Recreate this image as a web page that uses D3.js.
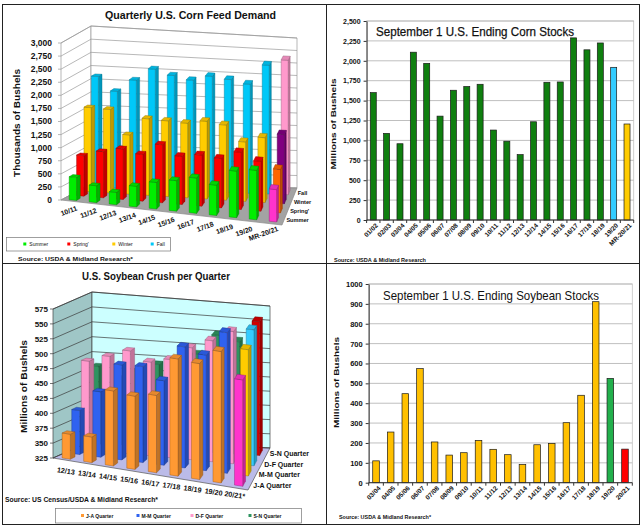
<!DOCTYPE html>
<html>
<head>
<meta charset="utf-8">
<script src="https://cdn.jsdelivr.net/npm/d3@7"></script>
<style>
  body { margin: 0; background: #fff; }
  svg { display: block; font-family: "Liberation Sans", Arial, sans-serif; }
</style>
</head>
<body>
<svg id="chart" width="643" height="532"></svg>
<script>
// ---- Quarterly U.S. Corn Feed Demand ----
var feedYears = ["10/11", "11/12", "12/13", "13/14", "14/15", "15/16", "16/17", "17/18", "18/19", "19/20", "MR-20/21"];
var feedQuarters = ["Summer", "Spring'", "Winter", "Fall"];   // front -> back
var feedSummer = [440, 322, 236, 396, 511, 587, 680, 585, 899, 957, 627];
var feedSpring = [773, 883, 969, 901, 1120, 931, 990, 956, 1113, 973, 847];
var feedWinter = [1606, 1599, 1138, 1475, 1463, 1445, 1511, 1466, 1163, 1273, 1362];
var feedFall = [2116, 1854, 2090, 2323, 2224, 2157, 2255, 2214, 2145, 2544, 2668];
var feedTicks = [0, 250, 500, 750, 1000, 1250, 1500, 1750, 2000, 2250, 2500, 2750, 3000];

// ---- September 1 U.S. Ending Corn Stocks ----
var cornYears = ["01/02", "02/03", "03/04", "04/05", "05/06", "06/07", "07/08", "08/09", "09/10", "10/11",
                 "11/12", "12/13", "13/14", "14/15", "15/16", "16/17", "17/18", "18/19", "19/20", "MR-20/21"];
var cornStocks = [1600, 1088, 958, 2108, 1968, 1305, 1630, 1677, 1705, 1130, 990, 821, 1234, 1730, 1734, 2288, 2138, 2224, 1918, 1206];
var cornTicks = [0, 250, 500, 750, 1000, 1250, 1500, 1750, 2000, 2250, 2500];

// ---- U.S. Soybean Crush per Quarter ----
var crushYears = ["12/13", "13/14", "14/15", "15/16", "16/17", "17/18", "18/19", "19/20", "20/21*"];
var crushQuarters = ["J-A Quarter", "M-M Quarter", "D-F Quarter", "S-N Quarter"];   // front -> back
var crushJA = [367, 368, 451, 448, 455, 522, 520, 546, 504];
var crushMM = [399, 435, 485, 487, 468, 530, 521, 564, 540];
var crushDF = [474, 486, 499, 484, 492, 516, 532, 552, 559];
var crushSN = [458, 440, 455, 469, 465, 492, 528, 520, 558];
var crushTicks = [325, 350, 375, 400, 425, 450, 475, 500, 525, 550, 575];

// ---- September 1 U.S. Ending Soybean Stocks ----
var soyYears = ["03/04", "04/05", "05/06", "06/07", "07/08", "08/09", "09/10", "10/11", "11/12",
                "12/13", "13/14", "14/15", "15/16", "16/17", "17/18", "18/19", "19/20", "20/21"];
var soyStocks = [110, 255, 448, 574, 205, 139, 151, 213, 168, 141, 92, 191, 198, 302, 440, 911, 525, 169];
var soyTicks = [0, 100, 200, 300, 400, 500, 600, 700, 800, 900, 1000];

var svg = d3.select("#chart");
var comma = d3.format(",");

function addText(g, x, y, str, size, opts) {
  opts = opts || {};
  var t = g.append("text")
    .attr("x", x).attr("y", y)
    .attr("font-size", size)
    .attr("font-weight", opts.bold ? "bold" : "normal")
    .attr("fill", opts.fill || "#111")
    .attr("text-anchor", opts.anchor || "start")
    .text(str);
  if (opts.len) t.attr("textLength", opts.len).attr("lengthAdjust", "spacingAndGlyphs");
  if (opts.rotate != null) t.attr("transform", "rotate(" + opts.rotate + "," + x + "," + y + ")");
  if (opts.dy) t.attr("dy", opts.dy);
  return t;
}

// floor corners + heights, blended so the view keeps its perspective look
function box3d(c) {
  var lerp = function(a, b, t) { return a + (b - a) * t; };
  return function(u, v, t) {
    var bx = lerp(lerp(c.fl[0], c.fr[0], u), lerp(c.bl[0], c.br[0], u), v);
    var by = lerp(lerp(c.fl[1], c.fr[1], u), lerp(c.bl[1], c.br[1], u), v);
    var hh = lerp(lerp(c.h[0], c.h[1], u), lerp(c.h[2], c.h[3], u), v);
    return [bx, by - t * hh];
  };
}

function pts(a) { return a.map(function(p) { return p[0].toFixed(2) + "," + p[1].toFixed(2); }).join(" "); }

function draw3D(o) {
  var g = svg.append("g");
  var P = o.P;
  var U = d3.scaleBand().domain(o.cats).range([0, 1]).paddingInner(o.gapU).paddingOuter(o.gapU / 2);
  var V = d3.scaleBand().domain(o.rows).range([0, 1]).paddingInner(0.5).paddingOuter(0.25);
  var T = d3.scaleLinear().domain(o.domain).range([0, 1]);

  g.append("polygon").attr("points", pts([P(0,0,0), P(0,0,1), P(0,1,1), P(0,1,0)]))
    .attr("fill", o.leftWall).attr("stroke", o.edge).attr("stroke-width", 0.7);
  g.append("polygon").attr("points", pts([P(0,1,0), P(0,1,1), P(1,1,1), P(1,1,0)]))
    .attr("fill", o.backWall).attr("stroke", o.edge).attr("stroke-width", 0.7);
  g.append("polygon").attr("points", pts([P(0,0,0), P(1,0,0), P(1,1,0), P(0,1,0)]))
    .attr("fill", o.floor).attr("stroke", o.floorEdge).attr("stroke-width", 0.7);

  g.selectAll("polyline.grid").data(o.ticks).join("polyline")
    .attr("points", function(d) { var t = T(d); return pts([P(0,0,t), P(0,1,t), P(1,1,t)]); })
    .attr("fill", "none").attr("stroke", o.grid).attr("stroke-width", 0.7);
  g.selectAll("line.tk").data(o.ticks).join("line")
    .attr("x1", function(d) { return P(0,0,T(d))[0] - 3; })
    .attr("x2", function(d) { return P(0,0,T(d))[0]; })
    .attr("y1", function(d) { return P(0,0,T(d))[1]; })
    .attr("y2", function(d) { return P(0,0,T(d))[1]; })
    .attr("stroke", o.grid).attr("stroke-width", 0.7);
  o.ticks.forEach(function(d) {
    var p = P(0, 0, T(d));
    addText(g, p[0] - o.labelGap, p[1], o.fmt(d), o.tickFont, { bold: true, anchor: "end", dy: "0.35em" });
  });

  // bars, back row first
  for (var s = o.series.length - 1; s >= 0; s--) {
    o.series[s].forEach(function(val, i) {
      var cat = o.cats[i];
      var u0 = U(cat), u1 = u0 + U.bandwidth();
      var v0 = V(o.rows[s]), v1 = v0 + V.bandwidth();
      var t = T(val);
      var base = i === o.cats.length - 1 ? o.lastColors[s] : o.colors[s];
      var c = d3.color(base);
      var line = c.darker(1.6).formatHex();
      g.append("polygon").attr("points", pts([P(u1,v0,0), P(u1,v1,0), P(u1,v1,t), P(u1,v0,t)]))
        .attr("fill", c.darker(0.8).formatHex()).attr("stroke", line).attr("stroke-width", 0.4);
      g.append("polygon").attr("points", pts([P(u0,v0,0), P(u1,v0,0), P(u1,v0,t), P(u0,v0,t)]))
        .attr("fill", base).attr("stroke", line).attr("stroke-width", 0.4);
      g.append("polygon").attr("points", pts([P(u0,v0,t), P(u1,v0,t), P(u1,v1,t), P(u0,v1,t)]))
        .attr("fill", c.darker(0.3).formatHex()).attr("stroke", line).attr("stroke-width", 0.4);
    });
  }

  // category labels along the front edge
  o.cats.forEach(function(cat) {
    var u = U(cat) + U.bandwidth() / 2;
    var p = P(u, 0, 0);
    var lp = o.catPos(u, p);
    addText(g, lp[0], lp[1], cat, o.catFont, { bold: true, anchor: "middle", rotate: o.catRotate });
  });
  // depth labels along the right edge
  o.rows.forEach(function(r) {
    var v = V(r) + V.bandwidth() / 2;
    var p = P(1, v, 0);
    addText(g, p[0] + 2.5, p[1] + o.rowDy, r, o.rowFont, { bold: true });
  });
  return g;
}

function drawBars(o) {
  var g = svg.append("g");
  var x = d3.scaleBand().domain(o.cats).range(o.xr).paddingInner(0.55).paddingOuter(0.275);
  var y = d3.scaleLinear().domain(o.yd).range(o.yr);
  g.append("rect").attr("x", o.xr[0]).attr("y", o.yr[1])
    .attr("width", o.xr[1] - o.xr[0]).attr("height", o.yr[0] - o.yr[1])
    .attr("fill", "none").attr("stroke", "#c4c4c4").attr("stroke-width", 0.8);
  g.selectAll("line.grid").data(o.ticks).join("line")
    .attr("x1", o.xr[0]).attr("x2", o.xr[1])
    .attr("y1", function(d) { return y(d); }).attr("y2", function(d) { return y(d); })
    .attr("stroke", "#b8b8b8").attr("stroke-width", 0.9);

  var ya = g.append("g").attr("transform", "translate(" + o.xr[0] + ",0)")
    .call(d3.axisLeft(y).tickValues(o.ticks).tickSize(3).tickSizeOuter(0).tickPadding(3).tickFormat(o.fmt));
  ya.select(".domain").attr("stroke", "#333");
  ya.selectAll(".tick line").attr("stroke", "#333");
  ya.selectAll("text").attr("font-size", o.tickFont).attr("font-weight", "bold").attr("fill", "#111")
    .attr("font-family", "Liberation Sans, Arial, sans-serif");

  g.selectAll("rect.bar").data(o.values).join("rect")
    .attr("x", function(d, i) { return x(o.cats[i]); })
    .attr("y", function(d) { return y(d); })
    .attr("width", x.bandwidth())
    .attr("height", function(d) { return y(0) - y(d); })
    .attr("fill", function(d, i) { return o.color(i); })
    .attr("stroke", "#1a1a1a").attr("stroke-width", 0.7);

  var y0 = y(0);
  g.append("line").attr("x1", o.xr[0]).attr("x2", o.xr[1]).attr("y1", y0).attr("y2", y0)
    .attr("stroke", "#333");
  var gap = (x.step() - x.bandwidth()) / 2;
  var bounds = o.cats.map(function(c) { return x(c) - gap; }).concat([o.xr[1]]);
  g.selectAll("line.xt").data(bounds).join("line")
    .attr("x1", function(d) { return d; }).attr("x2", function(d) { return d; })
    .attr("y1", y0).attr("y2", y0 + 3).attr("stroke", "#333");
  o.cats.forEach(function(c) {
    var cx = x(c) + x.bandwidth() / 2 + 5;
    addText(g, cx, y0 + 6, c, o.catFont, { bold: true, anchor: "end", rotate: -45 });
  });
  return g;
}

// ---------- panel 1: corn feed (3D) ----------
var feedP = box3d({ fl: [61, 200], fr: [282, 225], bl: [91, 184], br: [297, 188], h: [157, 155, 158, 150] });
draw3D({
  P: feedP, cats: feedYears, rows: feedQuarters, gapU: 0.63,
  series: [feedSummer, feedSpring, feedWinter, feedFall],
  colors: ["#00ee00", "#ff0000", "#ffcc00", "#00c8f8"],
  lastColors: ["#ff33cc", "#ff6600", "#800080", "#ff99cc"],
  domain: [0, 3000], ticks: feedTicks, fmt: comma, tickFont: 8.5, labelGap: 9,
  leftWall: "#ffffff", backWall: "#ffffff", floor: "#a3a3a3", floorEdge: "#8a8a8a",
  edge: "#9a9a9a", grid: "#9a9a9a",
  catFont: 7, catRotate: -20, catPos: function(u, p) { return [p[0] - 1 - 7 * u, p[1] + 12]; },
  rowFont: 5.6, rowDy: 2
});
var g1 = svg.append("g");
addText(g1, 190.5, 18.5, "Quarterly U.S. Corn Feed Demand", 11.5, { bold: true, anchor: "middle", len: 171 });
addText(g1, 17, 123, "Thousands of Bushels", 9, { bold: true, anchor: "middle", rotate: -90, dy: "0.35em", len: 108 });
g1.append("rect").attr("x", 6.5).attr("y", 237.5).attr("width", 164).attr("height", 13.5)
  .attr("fill", "#fff").attr("stroke", "#777").attr("stroke-width", 0.7);
var feedLegX = [23.3, 67.3, 112.3, 150.7];
var feedLegCol = ["#00ee00", "#ff0000", "#ffcc00", "#00c8f8"];
var feedLegTxt = ["Summer", "Spring'", "Winter", "Fall"];
feedLegTxt.forEach(function(t, i) {
  g1.append("rect").attr("x", feedLegX[i]).attr("y", 242.5).attr("width", 3).attr("height", 3).attr("fill", feedLegCol[i]);
  addText(g1, feedLegX[i] + 6, 246, t, 5);
});
addText(g1, 18, 260.5, "Source: USDA & Midland Research*", 6, { bold: true, len: 115 });

// ---------- panel 2: corn stocks ----------
drawBars({
  cats: cornYears, values: cornStocks, ticks: cornTicks, fmt: comma,
  xr: [366.6, 633.7], yd: [0, 2500], yr: [220, 21], tickFont: 7, catFont: 6.5,
  color: function(i) { return i === 18 ? "#33ccff" : (i === 19 ? "#ffcc00" : "#0f7f0f"); }
});
var g2 = svg.append("g");
addText(g2, 376, 36, "September 1 U.S. Ending Corn Stocks", 12.5, { len: 198 }).attr("stroke", "#111").attr("stroke-width", 0.25);
addText(g2, 333, 124, "Millions of Bushels", 7.8, { bold: true, anchor: "middle", rotate: -90, dy: "0.35em", len: 91 });
addText(g2, 334, 261.5, "Source: USDA & Midland Research", 5.6, { bold: true, len: 92 });

// ---------- panel 3: soybean crush (3D) ----------
var crushP = box3d({ fl: [53, 458], fr: [248, 490], bl: [92, 441], br: [270, 448], h: [149, 149, 149, 142] });
draw3D({
  P: crushP, cats: crushYears, rows: crushQuarters, gapU: 0.62,
  series: [crushJA, crushMM, crushDF, crushSN],
  colors: ["#ff9933", "#2f62f0", "#ff99cc", "#2e9460"],
  lastColors: ["#ff33cc", "#ffcc00", "#33ccff", "#d40000"],
  domain: [325, 575], ticks: crushTicks, fmt: d3.format("d"), tickFont: 8, labelGap: 5,
  leftWall: "#9fc6c6", backWall: "#ccffff", floor: "#bbbbe8", floorEdge: "#555",
  edge: "#444", grid: "#3a3a3a",
  catFont: 7.2, catRotate: 8, catPos: function(u, p) { return [p[0] + 2 - 5 * u, p[1] + 14 - 5 * u]; },
  rowFont: 7, rowDy: 3
});
var g3 = svg.append("g");
addText(g3, 156, 280, "U.S. Soybean Crush per Quarter", 10.5, { bold: true, anchor: "middle", len: 148 });
addText(g3, 24, 386.5, "Millions of Bushels", 9, { bold: true, anchor: "middle", rotate: -90, dy: "0.35em", len: 93 });
addText(g3, 5, 502, "Source: US Census/USDA & Midland Research*", 7, { bold: true, len: 153 });
g3.append("rect").attr("x", 55.5).attr("y", 508.5).attr("width", 246).attr("height", 14.5)
  .attr("fill", "#fff").attr("stroke", "#777").attr("stroke-width", 0.7);
var crushLegX = [81, 136.5, 190.5, 248.5];
var crushLegCol = ["#ff9933", "#2f62f0", "#ff99cc", "#2e9460"];
crushQuarters.forEach(function(t, i) {
  g3.append("rect").attr("x", crushLegX[i]).attr("y", 514).attr("width", 3).attr("height", 3).attr("fill", crushLegCol[i]);
  addText(g3, crushLegX[i] + 5, 517.7, t, 5, { bold: true });
});

// ---------- panel 4: soybean stocks ----------
drawBars({
  cats: soyYears, values: soyStocks, ticks: soyTicks, fmt: d3.format("d"),
  xr: [368.7, 632.3], yd: [0, 1000], yr: [482.7, 284], tickFont: 7.5, catFont: 6.5,
  color: function(i) { return i === 16 ? "#22b04c" : (i === 17 ? "#ff0000" : "#ffc000"); }
});
var g4 = svg.append("g");
addText(g4, 383, 299.5, "September 1 U.S. Ending Soybean Stocks", 13, { len: 216 });
addText(g4, 336, 382.5, "Millions of Bushels", 7.8, { bold: true, anchor: "middle", rotate: -90, dy: "0.35em", len: 91 });
addText(g4, 339, 519, "Source: USDA & Midland Research*", 5.6, { bold: true, len: 92 });

// ---------- panel frames ----------
var fr = svg.append("g").attr("fill", "none").attr("stroke", "#222").attr("stroke-width", 1);
fr.append("rect").attr("x", 2.5).attr("y", 4.5).attr("width", 637).attr("height", 520);
fr.append("line").attr("x1", 326.5).attr("x2", 326.5).attr("y1", 4.5).attr("y2", 524.5);
fr.append("line").attr("x1", 2.5).attr("x2", 639.5).attr("y1", 263.5).attr("y2", 263.5);
</script>
</body>
</html>
